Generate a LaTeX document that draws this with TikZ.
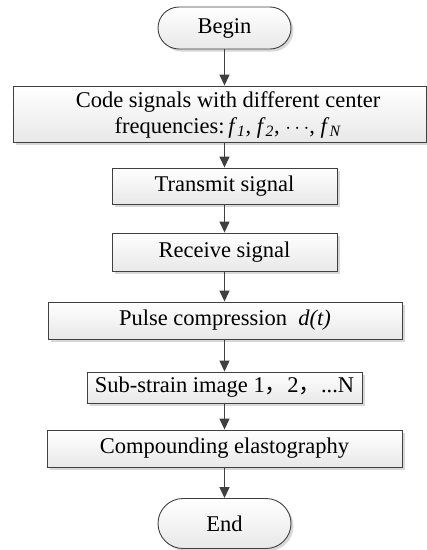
\documentclass[tikz,border=0pt]{standalone}
\usepackage{fontspec}
\setmainfont{Liberation Serif}
\newfontfamily\cjkfont{Noto Sans CJK SC}
\usetikzlibrary{shapes.misc,shadows,arrows.meta}
\definecolor{edge}{HTML}{404040}
\begin{document}
\begin{tikzpicture}[x=1pt,y=-1pt,
  every node/.style={font=\fontsize{22.5}{26}\selectfont, text=black},
  boxlook/.style={draw=edge, line width=0.9pt, top color=white, bottom color=black!9,
    drop shadow={shadow xshift=2.5pt, shadow yshift=-2.5pt, fill=black!22, opacity=0.7},
    inner sep=0pt},
  stepbox/.style={rectangle, boxlook},
  terminal/.style={rounded rectangle, boxlook},
  flow/.style={draw=edge, line width=1.3pt, -{Triangle[length=11pt,width=10pt]}}
]
\useasboundingbox (0,0) rectangle (427,550);

% start and end terminals
\node[terminal, minimum width=133pt, minimum height=42pt] (begin) at (224.5,28) {Begin};
\node[terminal, minimum width=133pt, minimum height=50pt] (finish) at (224.5,523.5) {End};

% process steps
\node[stepbox, minimum width=413pt, minimum height=56pt] (code) at (219.5,114) {};
\node[align=center, inner sep=0pt] (codetext) at (228,115)
  {Code signals with different center\\
   frequencies:\,\textit{f}\textsubscript{\textit{1}}, \textit{f}\textsubscript{\textit{2}}, $\cdots$, \textit{f}\textsubscript{\textit{N}}};
\node[stepbox, minimum width=225pt, minimum height=36pt] (transmit) at (224.5,186) {Transmit signal};
\node[stepbox, minimum width=225pt, minimum height=38pt] (receive) at (224.5,252) {Receive signal};
\node[stepbox, minimum width=354pt, minimum height=37pt] (pulse) at (225,320.5) {Pulse compression\ \ \textit{d(t)}};
\node[stepbox, minimum width=275pt, minimum height=31pt] (sub) at (224.5,387.5)
  {Sub-strain image 1{\cjkfont ，}2{\cjkfont ，}...N};
\node[stepbox, minimum width=355pt, minimum height=37pt] (comp) at (224.5,448.5) {Compounding elastography};

% connectors
\draw[flow] (begin.south) -- (begin.south |- code.north);
\draw[flow] (transmit.north |- code.south) -- (transmit.north);
\draw[flow] (transmit.south) -- (receive.north);
\draw[flow] (receive.south) -- (receive.south |- pulse.north);
\draw[flow] (sub.north |- pulse.south) -- (sub.north);
\draw[flow] (sub.south) -- (sub.south |- comp.north);
\draw[flow] (comp.south -| finish.north) -- (finish.north);
\end{tikzpicture}
\end{document}
